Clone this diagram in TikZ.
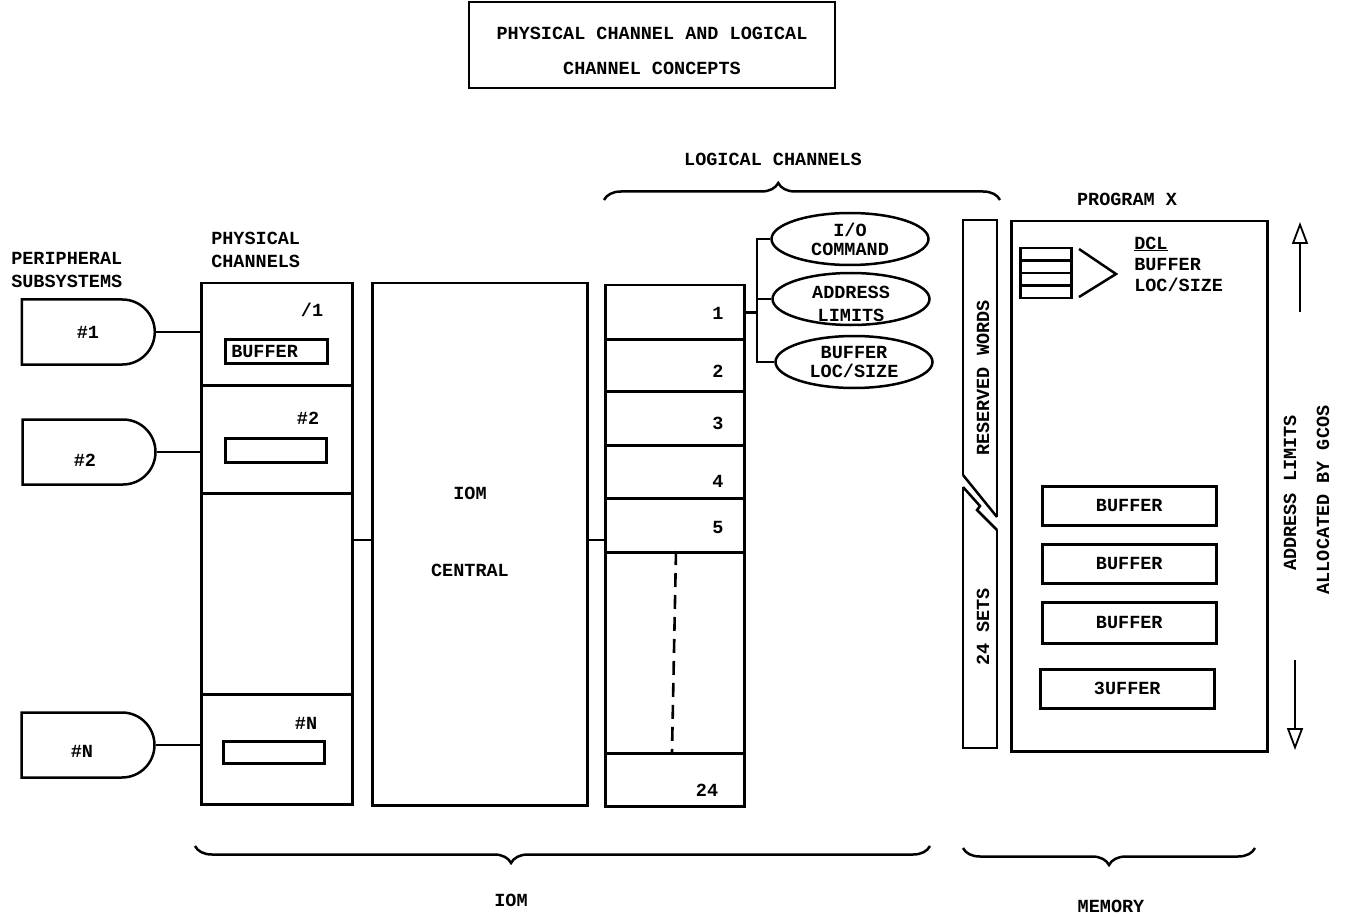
\documentclass[tikz,border=0pt]{standalone}
\usepackage{fontspec}
\newfontfamily\twfam{Liberation Mono}
\newcommand\twfont{\twfam\bfseries\fontsize{18.5}{21}\selectfont}
\usetikzlibrary{shapes.geometric,shapes.misc,arrows.meta,decorations.pathreplacing}
\begin{document}
\begin{tikzpicture}[x=1pt,y=-1pt,line width=2.5pt,
  every node/.style={font=\twfont,inner sep=0pt},
  bx/.style={draw,anchor=north west,rectangle},
  dshape/.style={draw,rounded rectangle,rounded rectangle west arc=none,minimum width=133pt,minimum height=65pt},
  ell/.style={draw,ellipse,minimum width=157pt,minimum height=52pt,align=center},
  lbl/.style={align=left},
  brc/.style={decorate,line width=2.5pt},
  oarrow/.style={-{Triangle[open,length=22pt,width=16pt]},line width=1.8pt}]
\useasboundingbox (0,0) rectangle (1349,917);
\fill[white] (0,0) rectangle (1349,917);

% title
\node[draw,minimum width=366pt,minimum height=86pt] (title) at (652,45) {};
\node[align=center] (titlet) at (652,51) {PHYSICAL CHANNEL AND LOGICAL\\[14pt]CHANNEL CONCEPTS};

% labels
\node[lbl,anchor=west] (lperi) at (10,270) {PERIPHERAL\\[2pt]SUBSYSTEMS};
\node[lbl,anchor=west] (lphys) at (210,250) {PHYSICAL\\[2pt]CHANNELS};
\node (llog) at (773,159) {LOGICAL CHANNELS};
\node (lprog) at (1127,199) {PROGRAM X};

% peripheral subsystems
\node[dshape] (p1) at (88,332) {\#1};
\node[dshape] (p2) at (89,452) {};
\node (p2t) at (85,460) {\#2};
\node[dshape] (pn) at (88,745) {};
\node (pnt) at (82,751) {\#N};

% physical channels column
\node[bx,minimum width=151pt,minimum height=102pt] (pc1) at (200,282) {};
\node[bx,minimum width=151pt,minimum height=108pt] (pc2) at (200,384) {};
\node[bx,minimum width=151pt,minimum height=201pt] (pc3) at (200,492) {};
\node[bx,minimum width=151pt,minimum height=110pt] (pcn) at (200,693) {};
\node (n1) at (312,310) {/1};
\node (n2) at (308,418) {\#2};
\node (nn) at (306,723) {\#N};
\node[bx,minimum width=102pt,minimum height=24pt] (pb1) at (224,338) {};
\node[anchor=west] (pb1t) at (230,351) {BUFFER};
\node[bx,minimum width=101pt,minimum height=24pt] (pb2) at (224,437) {};
\node[bx,minimum width=101pt,minimum height=22pt] (pbn) at (222,740) {};

\draw (p1.east) -- (p1.east -| pc1.west);
\draw (p2.east) -- (p2.east -| pc2.west);
\draw (pn.east) -- (pn.east -| pcn.west);

% IOM central
\node[bx,minimum width=215pt,minimum height=522pt] (iom) at (371,282) {};
\node (iomt) at (470,493) {IOM};
\node (iomc) at (470,570) {CENTRAL};
\coordinate (iomj) at (371,540);
\draw (iomj) -- (iomj -| pc3.east);

% logical channels column
\node[bx,minimum width=139pt,minimum height=54pt] (lc1) at (604,284) {};
\node[bx,minimum width=139pt,minimum height=52pt] (lc2) at (604,338) {};
\node[bx,minimum width=139pt,minimum height=54pt] (lc3) at (604,390) {};
\node[bx,minimum width=139pt,minimum height=53pt] (lc4) at (604,444) {};
\node[bx,minimum width=139pt,minimum height=54pt] (lc5) at (604,497) {};
\node[bx,minimum width=139pt,minimum height=201pt] (lc6) at (604,551) {};
\node[bx,minimum width=139pt,minimum height=53pt] (lc24) at (604,752) {};
\node at (718,313) {1};
\node at (718,371) {2};
\node at (718,423) {3};
\node at (718,481) {4};
\node at (718,527) {5};
\node at (707,790) {24};
\draw[dash pattern=on 14pt off 8pt,line width=2.6pt] (lc6.north -| 676,0) -- (lc24.north -| 672,0);
\draw (iom.east |- iomj) -- (iomj -| lc5.west);

% ellipses
\node[ell] (e1) at (850,239) {I/O\\[-2pt]COMMAND};
\node[ell] (e2) at (851,299) {};
\node[align=center] (e2t) at (851,304) {ADDRESS\\[2pt]LIMITS};
\node[ell] (e3) at (854,362) {BUFFER\\[-2pt]LOC/SIZE};
\coordinate (jt) at (757,239);
\draw (lc1.east) -- (lc1.east -| jt);
\draw (e1.west) -- (e1.west -| jt) -- (e3.west -| jt) -- (e3.west);
\draw (e2.west) -- (e2.west -| jt);

% braces
\coordinate (bl1) at (604,200); \coordinate (bl2) at (1000,200);
\draw[brc,decoration={brace,amplitude=17pt,aspect=0.44}] (bl1) -- (bl2);
\coordinate (bi1) at (195,846); \coordinate (bi2) at (930,846);
\draw[brc,decoration={brace,mirror,amplitude=17pt,aspect=0.43}] (bi1) -- (bi2);
\coordinate (bm1) at (963,848); \coordinate (bm2) at (1255,848);
\draw[brc,decoration={brace,mirror,amplitude=17pt,aspect=0.5}] (bm1) -- (bm2);
\node (liom) at (511,900) {IOM};
\node (lmem) at (1111,906) {MEMORY};

% reserved words column
\draw (963,475) -- (963,220) -- (997,220) -- (997,517);
\draw (963,475) -- (997,517);
\draw (997,530) -- (997,748) -- (963,748) -- (963,487);
\draw (963,487) -- (980,506) -- (977,510) -- (997,530);
\node[rotate=90] (rw) at (983,378) {RESERVED WORDS};
\node[rotate=90] (rs) at (983,627) {24 SETS};

% program X
\node[bx,minimum width=256pt,minimum height=530pt] (prog) at (1010,220) {};
\node[bx,minimum width=51pt,minimum height=12.5pt] (d1) at (1019,247) {};
\node[bx,minimum width=51pt,minimum height=12.5pt] (d2) at (1019,259.5) {};
\node[bx,minimum width=51pt,minimum height=12.5pt] (d3) at (1019,272) {};
\node[bx,minimum width=51pt,minimum height=12.5pt] (d4) at (1019,284.5) {};
\coordinate (ch1) at (1079,249); \coordinate (ch2) at (1116,274); \coordinate (ch3) at (1079,297);
\draw (ch1) -- (ch2) -- (ch3);
\node[lbl,anchor=west] (dcl) at (1133,264) {\underline{DCL}\\BUFFER\\LOC/SIZE};
\node[bx,minimum width=174pt,minimum height=39pt] (b1) at (1041,485) {};
\node at (b1) {BUFFER};
\node[bx,minimum width=174pt,minimum height=39pt] (b2) at (1041,543) {};
\node at (b2) {BUFFER};
\node[bx,minimum width=174pt,minimum height=41pt] (b3) at (1041,601) {};
\node at (b3) {BUFFER};
\node[bx,minimum width=174pt,minimum height=39pt] (b4) at (1039,668) {};
\node at (b4) {3UFFER};

% right arrows
\coordinate (au0) at (1300,312); \coordinate (au1) at (1300,222);
\draw[oarrow] (au0) -- (au1);
\coordinate (ad0) at (1295,660); \coordinate (ad1) at (1295,750);
\draw[oarrow] (ad0) -- (ad1);
\node[rotate=90] (al) at (1290,493) {ADDRESS LIMITS};
\node[rotate=90] (ag) at (1323,500) {ALLOCATED BY GCOS};
\end{tikzpicture}
\end{document}
